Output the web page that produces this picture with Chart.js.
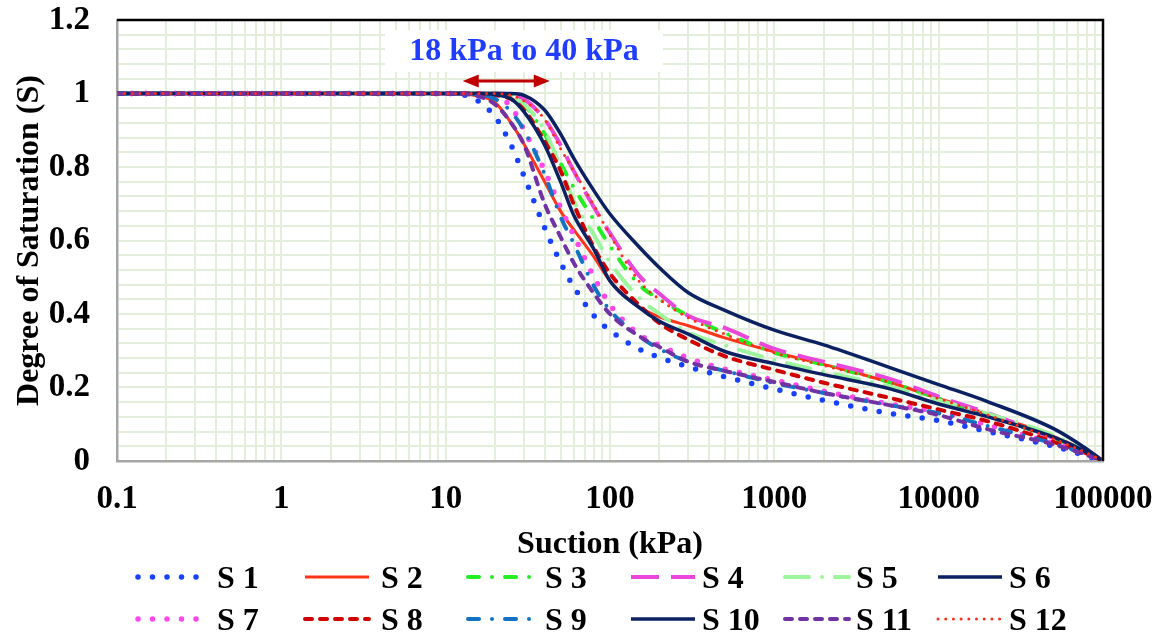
<!DOCTYPE html>
<html>
<head>
<meta charset="utf-8">
<script src="https://cdn.jsdelivr.net/npm/chart.js@4.4.1/dist/chart.umd.min.js"></script>
<style>
  html, body { margin: 0; padding: 0; background: #fff; }
  #wrap { position: relative; width: 1159px; height: 635px; }
  #legend { position: absolute; left: 0; top: 0; width: 1159px; height: 635px; pointer-events: none; }
  .lg-item { position: absolute; }
  .lg-item canvas { position: absolute; }
  .lg-item span { position: absolute; font: bold 32px 'Liberation Serif', 'Times New Roman', serif; line-height: 40px; white-space: nowrap; color: #000; }
</style>
</head>
<body>
<div id="wrap">
  <canvas id="swccChart" width="1159" height="635"></canvas>
  <div id="legend"></div>
</div>
<script>
// ========== 数据 ==========
const suction = [0.1, 1, 10, 15, 20, 25, 30, 40, 50, 60, 80, 100, 150, 200, 300, 500, 1000, 2000, 5000, 10000, 20000, 50000, 80000, 100000];

const s1  = [1, 1, 1, 0.985, 0.936, 0.86, 0.775, 0.635, 0.54, 0.475, 0.395, 0.355, 0.305, 0.282, 0.256, 0.229, 0.196, 0.165, 0.130, 0.110, 0.080, 0.040, 0.013, 0];
const s2  = [1, 1, 1, 0.995, 0.975, 0.92, 0.862, 0.76, 0.68, 0.63, 0.555, 0.49, 0.42, 0.392, 0.368, 0.335, 0.297, 0.263, 0.215, 0.17, 0.128, 0.067, 0.025, 0];
const s3  = [1, 1, 1, 1, 1, 0.995, 0.97, 0.89, 0.81, 0.745, 0.655, 0.585, 0.48, 0.44, 0.395, 0.348, 0.295, 0.262, 0.215, 0.17, 0.122, 0.063, 0.022, 0];
const s4  = [1, 1, 1, 1, 1, 0.997, 0.985, 0.93, 0.86, 0.79, 0.69, 0.62, 0.505, 0.455, 0.395, 0.362, 0.305, 0.27, 0.224, 0.175, 0.13, 0.062, 0.022, 0];
const s5  = [1, 1, 1, 1, 1, 0.99, 0.97, 0.9, 0.8, 0.71, 0.615, 0.54, 0.445, 0.40, 0.35, 0.315, 0.275, 0.243, 0.203, 0.165, 0.128, 0.07, 0.025, 0];
const s6  = [1, 1, 1, 1, 1, 1, 0.995, 0.955, 0.89, 0.825, 0.735, 0.672, 0.583, 0.526, 0.458, 0.41, 0.356, 0.316, 0.255, 0.208, 0.161, 0.088, 0.032, 0];
const s7  = [1, 1, 1, 1, 0.99, 0.965, 0.9, 0.79, 0.69, 0.615, 0.50, 0.425, 0.345, 0.315, 0.28, 0.25, 0.22, 0.19, 0.155, 0.133, 0.098, 0.048, 0.017, 0];
const s8  = [1, 1, 1, 1, 0.995, 0.985, 0.955, 0.87, 0.79, 0.70, 0.58, 0.51, 0.425, 0.375, 0.33, 0.285, 0.248, 0.213, 0.172, 0.14, 0.108, 0.052, 0.02, 0];
const s9  = [1, 1, 1, 0.998, 0.985, 0.95, 0.9, 0.78, 0.665, 0.593, 0.475, 0.41, 0.34, 0.305, 0.27, 0.245, 0.212, 0.185, 0.152, 0.13, 0.095, 0.047, 0.017, 0];
const s10 = [1, 1, 1, 1, 0.997, 0.985, 0.95, 0.86, 0.76, 0.67, 0.575, 0.49, 0.418, 0.38, 0.345, 0.298, 0.265, 0.235, 0.197, 0.155, 0.12, 0.065, 0.024, 0];
const s11 = [1, 1, 1, 0.995, 0.97, 0.92, 0.86, 0.70, 0.61, 0.54, 0.455, 0.40, 0.34, 0.31, 0.27, 0.245, 0.215, 0.185, 0.152, 0.125, 0.086, 0.045, 0.016, 0];
const s12 = [1, 1, 1, 1, 1, 0.995, 0.98, 0.93, 0.85, 0.79, 0.695, 0.615, 0.49, 0.44, 0.39, 0.345, 0.295, 0.26, 0.215, 0.17, 0.125, 0.06, 0.022, 0];

const seriesNames = ['S 1', 'S 2', 'S 3', 'S 4', 'S 5', 'S 6', 'S 7', 'S 8', 'S 9', 'S 10', 'S 11', 'S 12'];
const seriesValues = [s1, s2, s3, s4, s5, s6, s7, s8, s9, s10, s11, s12];

const xDecades = [0.1, 1, 10, 100, 1000, 10000, 100000];
const yLabels = [0, 0.2, 0.4, 0.6, 0.8, 1, 1.2];
const noteText = '18 kPa to 40 kPa';

// ========== 线型 ==========
const FONT = "'Liberation Serif', 'Times New Roman', serif";
const lineStyles = [
    { color: '#1641ff', width: 5.5, dash: [0, 14.5],          cap: 'round' },
    { color: '#ff3419', width: 3,   dash: [],                 cap: 'butt' },
    { color: '#22ee22', width: 4,   dash: [11, 13, 0, 13],    cap: 'round' },
    { color: '#e847d9', width: 4,   dash: [28, 12],           cap: 'butt' },
    { color: '#9cf59c', width: 4,   dash: [24, 13, 0, 13],    cap: 'round' },
    { color: '#0c2161', width: 3.5, dash: [],                 cap: 'butt' },
    { color: '#ff48e8', width: 5.5, dash: [0, 14.5],          cap: 'round' },
    { color: '#d00000', width: 4,   dash: [7, 8],             cap: 'round' },
    { color: '#1273c4', width: 4,   dash: [11, 13, 0, 13],    cap: 'round' },
    { color: '#0c2161', width: 3.5, dash: [],                 cap: 'butt' },
    { color: '#7132a3', width: 4,   dash: [7, 8],             cap: 'round' },
    { color: '#ff2d1a', width: 3,   dash: [0, 7.7],           cap: 'round' }
];

// 网格刻度：每个数量级 1..9，纵轴每 0.04
const xGridValues = [];
xDecades.forEach((d, i) => {
    if (i === xDecades.length - 1) { xGridValues.push(d); return; }
    for (let m = 1; m <= 9; m++) xGridValues.push(d * m);
});
const yGridValues = [];
for (let k = 0; k <= 30; k++) yGridValues.push(Math.round(k * 4) / 100);

function isDecade(v) { return xDecades.some(d => Math.abs(d - v) / d < 1e-9); }
function isYLabel(v) { return yLabels.some(l => Math.abs(l - v) < 1e-6); }

// ========== 数据集 ==========
const datasets = seriesValues.map((vals, i) => ({
    label: seriesNames[i],
    data: vals.map((v, j) => ({ x: suction[j], y: v })),
    borderColor: lineStyles[i].color,
    backgroundColor: lineStyles[i].color,
    borderWidth: lineStyles[i].width,
    borderDash: lineStyles[i].dash,
    borderCapStyle: lineStyles[i].cap,
    borderJoinStyle: 'round',
    pointRadius: 0,
    fill: false,
    cubicInterpolationMode: 'monotone',
    order: -i
}));

// ========== 边框与标注 ==========
const frameAndNote = {
    id: 'frameAndNote',
    afterDraw(chart) {
        const ctx = chart.ctx;
        const area = chart.chartArea;
        const xs = chart.scales.x, ys = chart.scales.y;
        ctx.save();
        // 顶部与右侧黑色边框
        ctx.strokeStyle = '#000';
        ctx.lineWidth = 2.5;
        ctx.beginPath();
        ctx.moveTo(area.left, area.top);
        ctx.lineTo(area.right, area.top);
        ctx.lineTo(area.right, area.bottom);
        ctx.stroke();

        // 白底文字框
        const boxL = area.left + 268, boxT = area.top + 10, boxW = 278, boxH = 42;
        ctx.fillStyle = '#fff';
        ctx.fillRect(boxL, boxT, boxW, boxH);
        ctx.fillStyle = '#1f3dff';
        ctx.font = 'bold 32px ' + FONT;
        ctx.textAlign = 'center';
        ctx.textBaseline = 'middle';
        ctx.fillText(noteText, boxL + boxW / 2, boxT + boxH / 2 + 1);

        // 双向箭头
        const x1 = xs.getPixelForValue(12.7), x2 = xs.getPixelForValue(43);
        const y = ys.getPixelForValue(1.034);
        const head = 16, half = 6.5;
        ctx.strokeStyle = '#c00000';
        ctx.fillStyle = '#c00000';
        ctx.lineWidth = 3;
        ctx.beginPath();
        ctx.moveTo(x1 + head - 2, y);
        ctx.lineTo(x2 - head + 2, y);
        ctx.stroke();
        ctx.beginPath();
        ctx.moveTo(x1, y); ctx.lineTo(x1 + head, y - half); ctx.lineTo(x1 + head, y + half); ctx.closePath();
        ctx.fill();
        ctx.beginPath();
        ctx.moveTo(x2, y); ctx.lineTo(x2 - head, y - half); ctx.lineTo(x2 - head, y + half); ctx.closePath();
        ctx.fill();
        ctx.restore();
    }
};

const gridStyle = { color: '#e3efdb', lineWidth: 2, drawTicks: false };
const borderStyle = { color: '#a6a6a6', width: 2.5 };

new Chart(document.getElementById('swccChart').getContext('2d'), {
    type: 'line',
    data: { datasets: datasets },
    options: {
        responsive: false,
        animation: false,
        layout: { padding: { top: 20, right: 56, bottom: 71, left: 0 } },
        scales: {
            x: {
                type: 'logarithmic',
                min: 0.1,
                max: 100000,
                afterBuildTicks: s => { s.ticks = xGridValues.map(v => ({ value: v })); },
                afterFit: s => { s.height = 103; s.paddingLeft = 0; s.paddingRight = 0; },
                ticks: {
                    autoSkip: false,
                    maxRotation: 0,
                    padding: 19,
                    color: '#000',
                    font: { family: FONT, size: 33, weight: 'bold' },
                    callback: v => isDecade(v) ? (v < 1 ? String(v) : String(Math.round(v))) : ''
                },
                grid: gridStyle,
                border: borderStyle,
                title: {
                    display: true,
                    text: 'Suction (kPa)',
                    color: '#000',
                    font: { family: FONT, size: 32, weight: 'bold' },
                    padding: { top: 0, bottom: 0 }
                }
            },
            y: {
                min: 0,
                max: 1.2,
                afterBuildTicks: s => { s.ticks = yGridValues.map(v => ({ value: v })); },
                afterFit: s => { s.width = 117; s.paddingTop = 0; s.paddingBottom = 0; },
                ticks: {
                    autoSkip: false,
                    padding: 27,
                    color: '#000',
                    font: { family: FONT, size: 33, weight: 'bold' },
                    callback: v => isYLabel(v) ? String(+v.toFixed(1)) : ''
                },
                grid: gridStyle,
                border: borderStyle,
                title: {
                    display: true,
                    text: 'Degree of Saturation (S)',
                    color: '#000',
                    font: { family: FONT, size: 32, weight: 'bold' },
                    padding: { top: 11, bottom: 0 }
                }
            }
        },
        plugins: {
            legend: { display: false },
            tooltip: { enabled: false }
        }
    },
    plugins: [frameAndNote]
});

// ========== 图例（两行六列） ==========
const legendCols = [138, 305, 468, 631, 785, 938];
const legendTextCols = [217, 381, 545, 702, 856, 1009];
const legendRows = [577, 619];

const legendBox = document.getElementById('legend');
seriesNames.forEach((name, i) => {
    const row = i < 6 ? 0 : 1, col = i % 6;
    const st = lineStyles[i];
    const item = document.createElement('div');
    item.className = 'lg-item';

    const cv = document.createElement('canvas');
    cv.width = 72; cv.height = 20;
    cv.style.left = (legendCols[col] - 3) + 'px';
    cv.style.top = (legendRows[row] - 10) + 'px';
    const c = cv.getContext('2d');
    c.strokeStyle = st.color;
    c.lineWidth = st.width;
    c.lineCap = st.cap;
    c.setLineDash(st.dash);
    c.beginPath();
    c.moveTo(3, 10);
    c.lineTo(67, 10);
    c.stroke();

    const sp = document.createElement('span');
    sp.textContent = name;
    sp.style.left = legendTextCols[col] + 'px';
    sp.style.top = (legendRows[row] - 20) + 'px';

    item.appendChild(cv);
    item.appendChild(sp);
    legendBox.appendChild(item);
});
</script>
</body>
</html>
